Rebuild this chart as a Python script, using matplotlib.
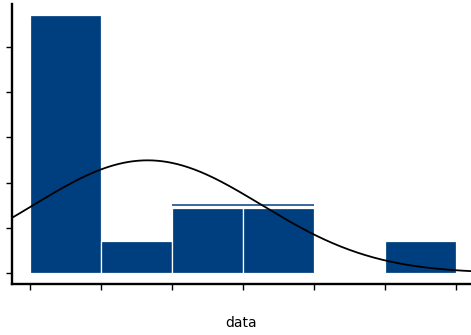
import numpy as np
import matplotlib
matplotlib.use("Agg")
import matplotlib.pyplot as plt

# Data
bin_edges = [0, 1, 2, 3, 4, 5, 6]
counts = [8, 1, 2, 2, 0, 1]
fit_mean = 1.66
fit_sd = 1.6
y_ticks = [0.0, 0.1, 0.2, 0.3, 0.4, 0.5]
x_label = "data"

bar_color = "#003f7f"

fig = plt.figure(figsize=(4.71, 3.35), dpi=100)
ax = fig.add_axes([0.0255, 0.152, 0.9745, 0.836])

centers = [(bin_edges[i] + bin_edges[i + 1]) / 2 for i in range(len(counts))]
n, _, _ = ax.hist(centers, bins=bin_edges, weights=counts, density=True,
                  color=bar_color, edgecolor="white", linewidth=0.9)

# thin duplicated outline above the equal-height middle bars
ax.hlines(n[2] + 0.008, bin_edges[2], bin_edges[4], color="#2a5c96", linewidth=1.3)

# fitted normal curve
xs = np.linspace(-0.3, 6.3, 400)
pdf = np.exp(-0.5 * ((xs - fit_mean) / fit_sd) ** 2) / (fit_sd * np.sqrt(2 * np.pi))
ax.plot(xs, pdf, color="black", linewidth=1.3)

ax.set_xlim(-0.25, 6.215)
ax.set_ylim(-0.0243, 0.595)
ax.set_xticks(bin_edges)
ax.set_yticks(y_ticks)
ax.set_xticklabels([])
ax.set_yticklabels([])
for s in ["top", "right"]:
    ax.spines[s].set_visible(False)
for s in ["left", "bottom"]:
    ax.spines[s].set_linewidth(1.7)
ax.tick_params(axis="both", direction="out", length=4.5, width=1.0, color="black")
ax.set_xlabel(x_label, fontsize=10, labelpad=15, family="DejaVu Sans")

fig.savefig("out.png", dpi=100)
